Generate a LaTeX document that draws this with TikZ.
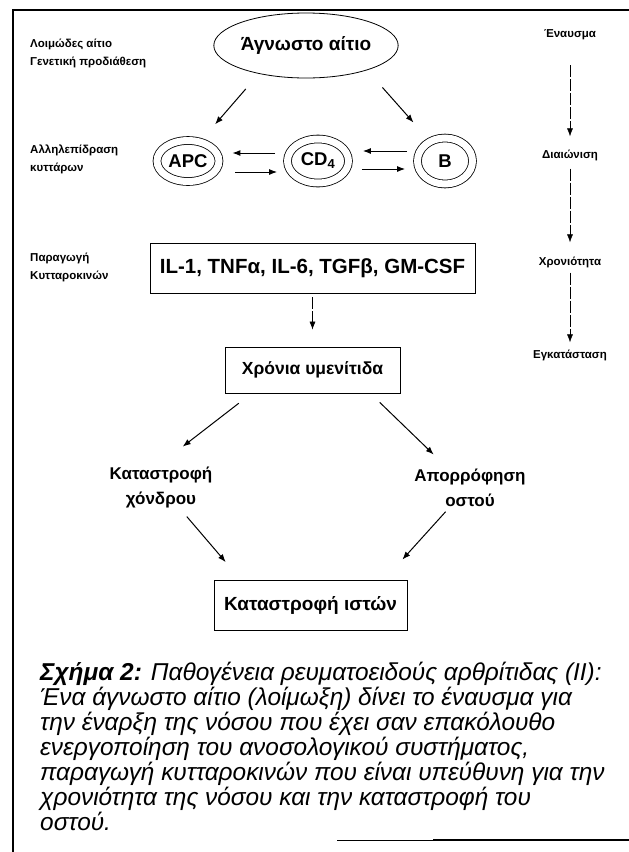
\documentclass[tikz,border=0pt]{standalone}
\usepackage{fontspec}
\setmainfont{Liberation Sans}
\usetikzlibrary{shapes.geometric,arrows.meta}
\begin{document}
\begin{tikzpicture}[x=1pt,y=-1pt,>={Latex[length=8pt,width=6pt]},
    lbl/.style={font=\bfseries\fontsize{11.5}{18}\selectfont,align=left,anchor=west,inner sep=0pt},
    stage/.style={font=\bfseries\fontsize{11.5}{13}\selectfont,inner sep=0pt},
    cell/.style={ellipse,draw,double,double distance=7pt,line width=0.8pt,
      font=\bfseries\fontsize{18.5}{20}\selectfont,inner sep=0pt},
    box/.style={draw,line width=0.8pt,inner sep=0pt},
    res/.style={font=\bfseries\fontsize{17}{25}\selectfont,align=center,inner sep=0pt}]
  \useasboundingbox (0,0) rectangle (629,852);
  % frame
  \draw[line width=2pt] (13,852) -- (13,10) -- (629,10);
  \draw[line width=1pt] (337,840) -- (629,840);
  \draw[line width=2.5pt] (433,840) -- (629,840);
  \draw
    (306,45.5) node[ellipse,draw,line width=0.8pt,minimum width=184pt,minimum height=65pt,
      inner sep=0pt,font=\bfseries\fontsize{19}{21}\selectfont] (ell){Άγνωστο αίτιο}
    (188,161) node[cell,minimum width=62pt,minimum height=41pt] (apc){APC}
    (318,161) node[cell,minimum width=61pt,minimum height=44pt] (cd4){CD$_\mathbf{4}$}
    (445,161) node[cell,minimum width=55pt,minimum height=46pt] (b){B}
    (312.5,268) node[box,minimum width=325pt,minimum height=50pt,
      font=\bfseries\fontsize{20.5}{22}\selectfont] (il){IL-1, TNFα, IL-6, TGFβ, GM-CSF}
    (312.5,370) node[box,minimum width=175pt,minimum height=46pt,
      font=\bfseries\fontsize{17.5}{20}\selectfont] (chr){Χρόνια υμενίτιδα}
    (161,487.5) node[res] (kat){Καταστροφή\\χόνδρου}
    (470,487.5) node[res] (apor){Απορρόφηση\\οστού}
    (310.5,605) node[box,minimum width=193pt,minimum height=50pt,
      font=\bfseries\fontsize{19}{21}\selectfont] (ist){Καταστροφή ιστών};
  % left labels
  \node[lbl] (aitio) at (30,53.5) {Λοιμώδες αίτιο\\Γενετική προδιάθεση};
  \node[lbl] (allil) at (30,159) {Αλληλεπίδραση\\κυττάρων};
  \node[lbl] (parag) at (30,267) {Παραγωγή\\Κυτταροκινών};
  % right column
  \node[stage] (en) at (570,35) {Έναυσμα};
  \node[stage] (dia) at (570,155) {Διαιώνιση};
  \node[stage] (chro) at (570,262) {Χρονιότητα};
  \node[stage] (egk) at (570,355) {Εγκατάσταση};
  \begin{scope}[->,line width=1pt]
    \draw[shorten <=20pt,shorten >=23pt] (ell.211) to (apc.58);
    \draw[shorten <=23pt,shorten >=25pt] (ell.338) to (b.127);
    \draw[shorten <=12pt,shorten >=13pt] ([yshift=8pt]cd4.west) to ([yshift=8pt]apc.east);
    \draw[shorten <=16pt,shorten >=10pt] ([yshift=-11pt]apc.east) to ([yshift=-11pt]cd4.west);
    \draw[shorten <=10pt,shorten >=14pt] ([yshift=10pt]b.west) to ([yshift=10pt]cd4.east);
    \draw[shorten <=13pt,shorten >=12pt] ([yshift=-8pt]cd4.east) to ([yshift=-8pt]b.west);
    \draw[shorten <=16pt,shorten >=33pt] (chr.201) to (kat.102);
    \draw[shorten <=13pt,shorten >=20pt] (chr.338) to (apor.139);
    \draw[shorten <=11pt,shorten >=23pt] (kat.312) to (ist.160);
    \draw[shorten <=7pt,shorten >=27pt] (apor.224) to (ist.19);
  \end{scope}
  \begin{scope}[->,line width=0.6pt,dash pattern=on 12pt off 2pt]
    \draw[shorten <=4pt,shorten >=17pt] (il) to (chr);
    \draw[shorten <=25pt,shorten >=13pt] (en) to (dia);
    \draw[shorten <=8pt,shorten >=14pt] (dia) to (chro);
    \draw[shorten <=5pt,shorten >=7pt] (chro) to (egk);
  \end{scope}
  % caption
  \node[anchor=north west,align=left,inner sep=0pt,
    font=\itshape\fontsize{24.4}{25}\selectfont] (cap) at (40,662)
    {\textbf{Σχήμα 2:} Παθογένεια ρευματοειδούς αρθρίτιδας (II):\\
     Ένα άγνωστο αίτιο (λοίμωξη) δίνει το έναυσμα για\\
     την έναρξη της νόσου που έχει σαν επακόλουθο\\
     ενεργοποίηση του ανοσολογικού συστήματος,\\
     παραγωγή κυτταροκινών που είναι υπεύθυνη για την\\
     χρονιότητα της νόσου και την καταστροφή του\\
     οστού.};
\end{tikzpicture}
\end{document}
